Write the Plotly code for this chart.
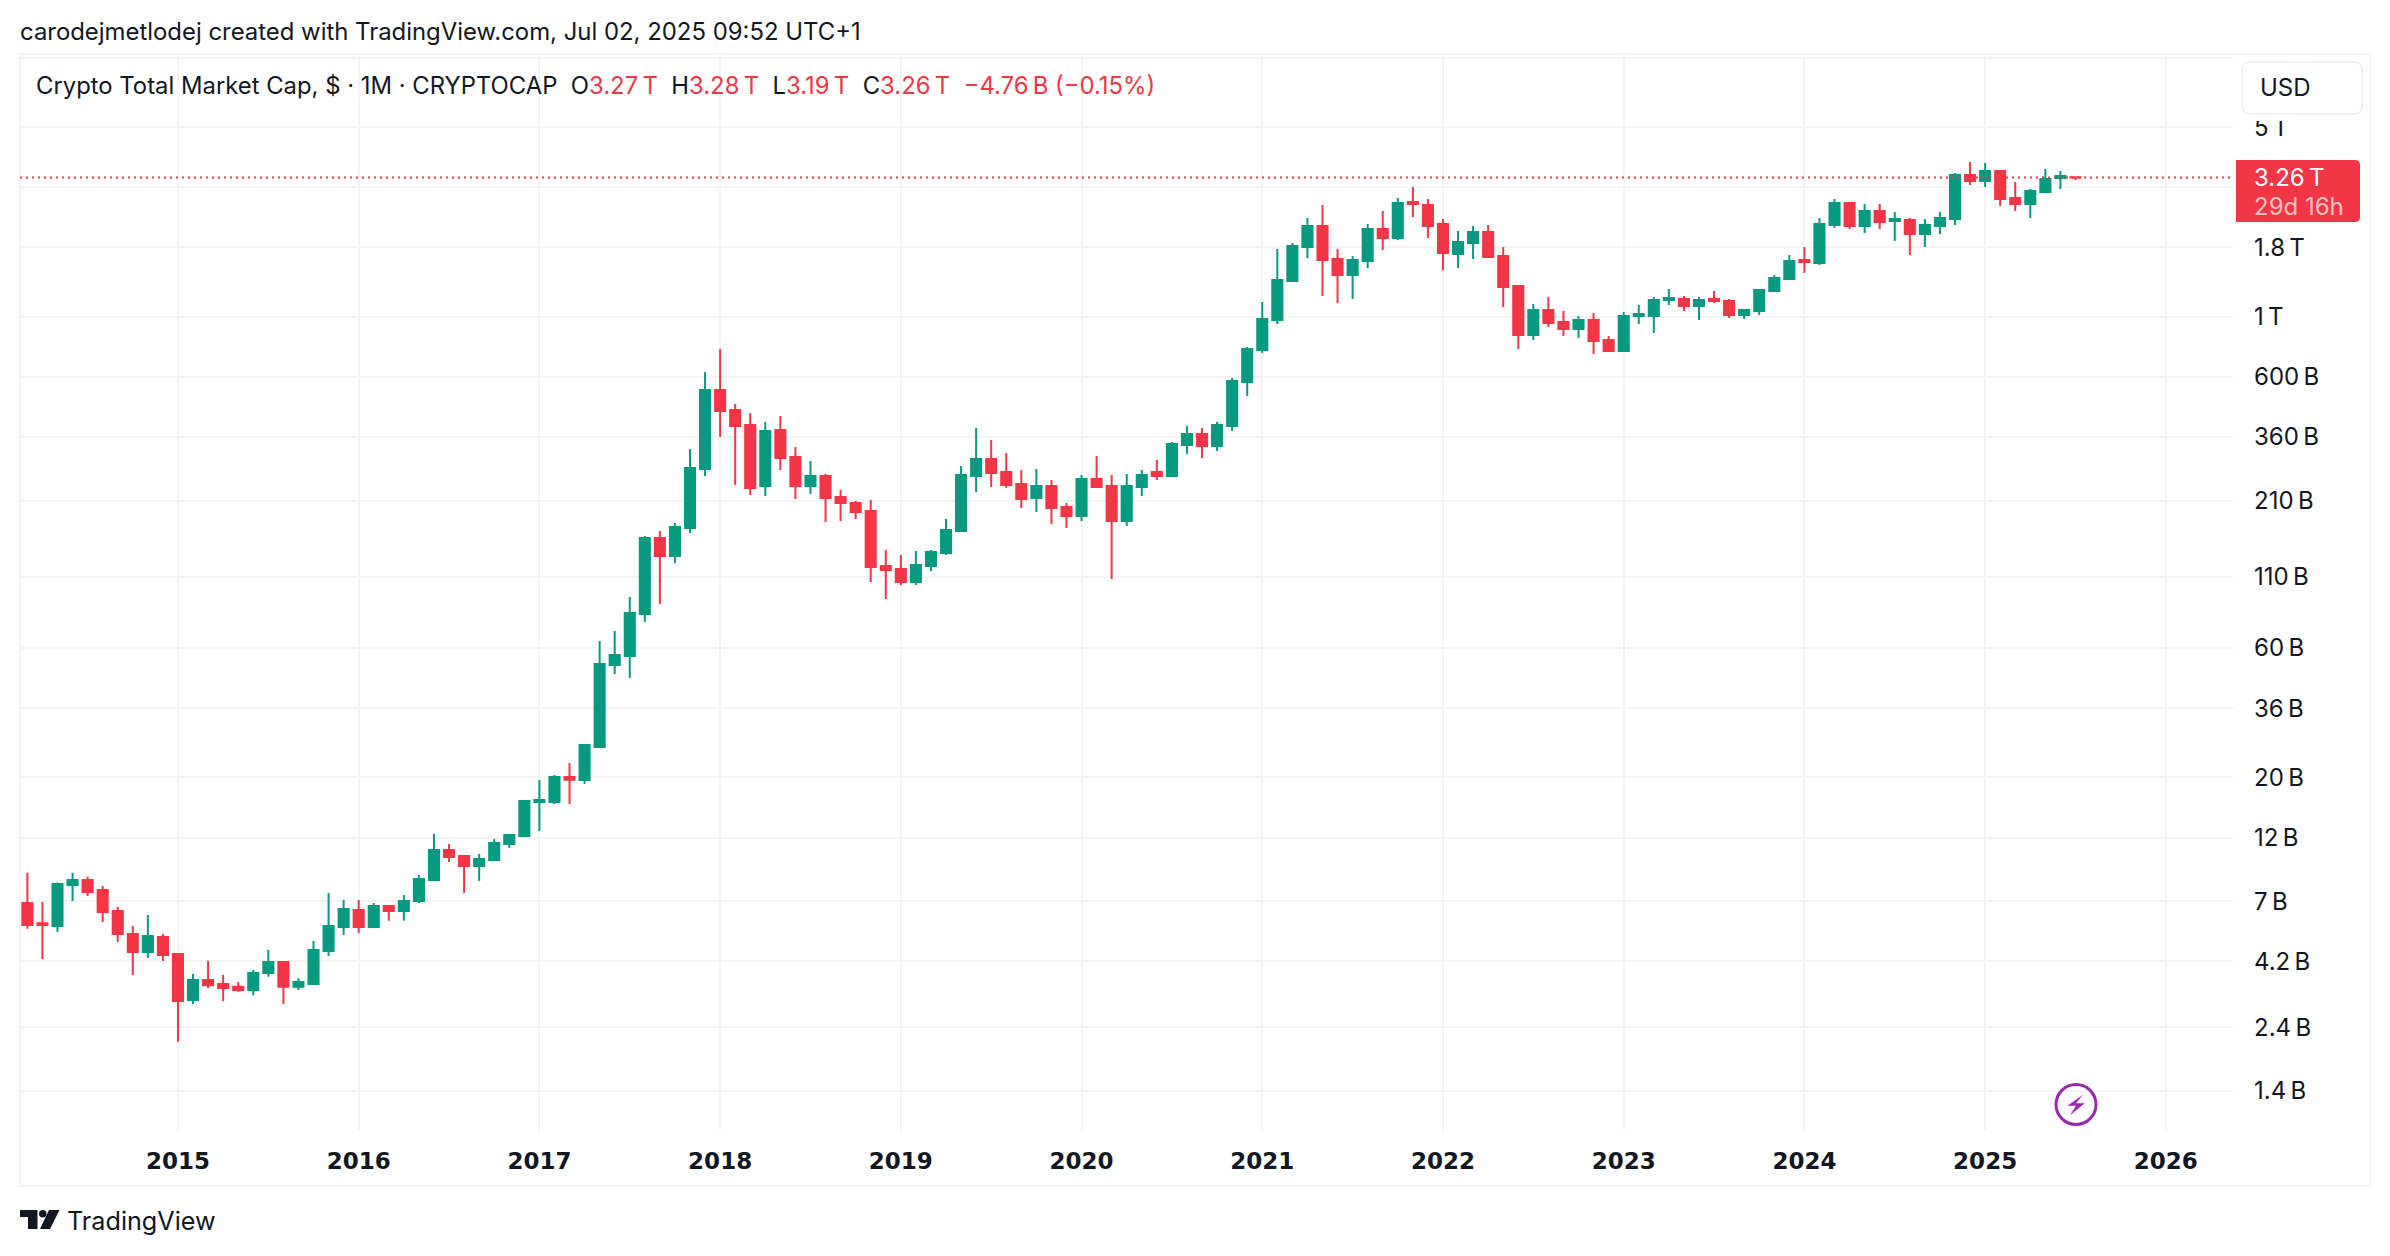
import numpy as np # for the bar index
import pandas as pd # for the month list

import plotly.graph_objects as go # for data visualization


W, H = 2390, 1256

# Monthly candles, Mar 2014 to Jul 2025, values in billions of USD
months = pd.period_range('2014-03', '2025-07', freq='M')

open_b = [6.89,5.80,5.67,8.02,8.38,7.69,6.44,5.30,4.54,5.16,
          4.47,3.02,3.58,3.46,3.38,3.29,3.80,4.17,3.38,3.46,
          4.58,5.62,6.49,5.62,6.72,6.44,7.01,8.38,10.80,10.27,
          9.43,9.92,11.37,12.17,16.24,16.24,20.07,19.57,25.9,52.0,
          56.1,80.1,152.8,131.1,166.3,274.4,537,453,398.7,237.5,
          382.1,303.9,237.5,258.6,216.3,205.6,192,120.4,117.4,105.1,
          120.4,134.5,162.1,258.6,298.8,267.5,241.6,214.5,237.5,198.7,
          184.1,252,237.5,176.5,235.5,267.5,258.6,336.5,369.4,333.6,
          395,574,754,972,1354,1807,2160,1632,1425,1605,
          2106,1951,2648,2582,2197,1703,1870,2053,1674,1298,
          856,1058,956,901,972,821,747,1006,1006,1152,
          1162,1095,1162,1143,1015,1050,1244,1377,1618,1578,
          2179,2626,2160,2454,2254,2273,2018,2160,2292,3330,
          3166,3446,2740,2604,2883,3247,3270]

high_b = [8.91,6.95,8.19,8.91,8.62,7.96,6.66,5.67,6.22,5.30,
          4.47,3.77,4.21,3.74,3.52,3.90,4.62,4.21,3.64,4.99,
          7.50,7.07,7.07,6.89,6.77,7.37,8.74,12.38,11.37,10.35,
          10.44,11.86,12.38,16.5,19.57,20.42,22.62,26.57,63.7,69.4,
          92.6,155.4,162.1,173.5,325,625,760,477,441.5,409,
          430.3,330.7,293.8,263,229.6,209.1,210.9,138,132.2,136.8,
          138,179.5,281.5,388.7,351,314.4,272,274.4,249.9,205.6,
          260.8,306.5,260.8,263,272,296.2,345,395,388.7,409,
          594,773,1133,1777,1870,2312,2582,1777,1674,2197,
          2453,2740,3008,2716,2292,2070,2160,2178,1807,1309,
          1114,1182,1050,1006,1032,849,1041,1104,1182,1265,
          1193,1182,1244,1162,1068,1265,1425,1689,1808,2312,
          2717,2648,2604,2604,2433,2312,2292,2433,3387,3720,
          3688,3475,3139,2958,3505,3446,3280]

low_b = [5.53,4.28,5.39,7.01,7.31,5.86,4.95,3.74,4.32,4.21,
         2.12,2.92,3.35,3.00,3.24,3.15,3.68,2.92,3.29,3.46,
         4.39,5.25,5.34,5.62,5.92,5.92,6.89,8.30,9.76,7.50,
         8.30,9.92,10.99,12.17,12.70,15.97,15.97,18.92,25.7,48.1,
         46.5,74.9,87.2,123.5,159.4,258.6,360,239.5,220,218,
         272,212.7,221.9,175,176.5,179.5,105.1,91,102.5,102.5,
         115.4,132.2,162.1,225.7,235.5,233.5,197,190.4,172,166.3,
         176.5,233.5,107.8,169.1,218,249.9,256.4,311.7,301.3,319.6,
         378.9,510,735,940,1343,1646,1193,1123,1162,1512,
         1762,1918,2332,1951,1487,1512,1632,1660,1086,760,
         821,916,849,835,729,741,747,940,871,1104,
         1050,972,1123,989,981,1015,1234,1377,1449,1551,
         2123,2106,2036,2106,1902,1689,1808,2018,2179,3060,
         3009,2560,2454,2312,2859,2958,3190]

close_b = [5.71,5.71,8.09,8.38,7.56,6.38,5.30,4.54,5.21,4.43,
           3.00,3.58,3.43,3.35,3.29,3.80,4.17,3.38,3.52,4.62,
           5.67,6.55,5.62,6.72,6.44,7.01,8.45,10.80,10.18,9.43,
           10.01,11.47,12.27,16.38,16.5,20.07,19.63,26.35,52.4,56.6,
           80.8,152.8,131.1,167.7,276.7,537,449,395,233.5,378.9,
           301.3,237.5,258.6,214.5,205.6,190.4,119.4,116.4,105.1,121.4,
           135.6,163.5,260.8,298.8,265.2,239.5,212.7,237.5,197,184.1,
           252,235.5,176.5,237.5,260.8,258.6,339.3,369.4,333.6,398.7,
           579,760,981,1366,1822,2160,1618,1425,1618,2106,
           1951,2626,2604,2160,1718,1886,2053,1660,1287,856,
           1058,948,901,972,814,747,1006,1023,1152,1172,
           1095,1152,1143,1015,1058,1254,1389,1605,1591,2197,
           2626,2160,2454,2235,2292,2018,2179,2312,3330,3166,
           3446,2717,2604,2908,3220,3303,3260]

# Axis labels, the 9T and 3T lines have their labels covered in the original
year_labels = [2015, 2016, 2017, 2018, 2019, 2020, 2021, 2022, 2023, 2024, 2025, 2026]
price_ticks = [9000, 5000, 3000, 1800, 1000, 600, 360, 210, 110, 60, 36, 20, 12, 7, 4.2, 2.4, 1.4]
price_labels = ['', '5\u2009T', '', '1.8\u2009T', '1\u2009T', '600\u2009B', '360\u2009B',
                '210\u2009B', '110\u2009B', '60\u2009B', '36\u2009B', '20\u2009B', '12\u2009B', '7\u2009B',
                '4.2\u2009B', '2.4\u2009B', '1.4\u2009B']
last_close = close_b[-1]

GREEN = '#089981'
RED = '#f23645'
INK = '#131722'
GRID = '#f3f4f4'
FONT = 'Inter'


def px(x):
    return x / W


def py(y):
    return 1 - y / H


def path_px(points, close=True):
    # SVG path in paper coordinates from page pixels
    s = 'M ' + ' L '.join(f'{px(a):.5f},{py(b):.5f}' for a, b in points)
    return s + (' Z' if close else '')


def label(x, y, text, size=24, color=INK, anchor='left'):
    fig.add_annotation(x=px(x), y=py(y), xref='paper', yref='paper', text=text, showarrow=False,
                       xanchor=anchor, yanchor='middle', align='left', borderpad=0,
                       font=dict(family=FONT, size=size, color=color))


# The bars sit on an evenly spaced index, like the original time scale
bar_x = np.arange(len(months))
tick_x = [(y - 2014) * 12 - 2 for y in year_labels]

fig = go.Figure()

fig.add_trace(go.Candlestick(x=bar_x, open=open_b, high=high_b, low=low_b, close=close_b,
                             whiskerwidth=0,
                             increasing=dict(line=dict(color=GREEN, width=2), fillcolor=GREEN),
                             decreasing=dict(line=dict(color=RED, width=2), fillcolor=RED),
                             hoverinfo='skip'))

# Dotted last price line
x_range = [-0.49, 146.46]
fig.add_trace(go.Scatter(x=x_range, y=[last_close, last_close], mode='lines', hoverinfo='skip',
                         line=dict(color=RED, width=2, dash='2px,4px')))

fig.update_layout(width=W, height=H, paper_bgcolor='white', plot_bgcolor='white',
                  margin=dict(l=0, r=0, t=0, b=0), showlegend=False, boxgap=0.33, boxgroupgap=0,
                  hovermode=False)

fig.update_xaxes(domain=[px(20), px(2233)], range=x_range, tickmode='array', tickvals=tick_x,
                 ticktext=[str(y) for y in year_labels], showgrid=True, gridcolor=GRID, gridwidth=2,
                 zeroline=False, showline=False, ticks='', rangeslider_visible=False, automargin=False,
                 ticklabelstandoff=15,
                 tickfont=dict(family='DejaVu Sans', size=23, color=INK, weight=600))

fig.update_yaxes(domain=[py(1130), py(54)], type='log', range=[0.0011, 3.9687], side='right',
                 tickmode='array', tickvals=price_ticks, ticktext=price_labels, automargin=False,
                 showgrid=True, gridcolor=GRID, gridwidth=2, zeroline=False, showline=False, ticks='',
                 ticklabelstandoff=20, tickfont=dict(family=FONT, size=24, color=INK))

# Outer frame
fig.add_shape(type='rect', xref='paper', yref='paper', x0=px(20), x1=px(2370), y0=py(1186), y1=py(54),
              line=dict(color=GRID, width=2), layer='below')

# White strip under the USD button, it cuts the top of the 5T label
fig.add_shape(type='rect', xref='paper', yref='paper', x0=px(2240), x1=px(2365), y0=py(121), y1=py(110),
              fillcolor='white', line_width=0)

# USD button
fig.add_shape(type='path', xref='paper', yref='paper', fillcolor='white', line=dict(color='#f0f3f4', width=2),
              path=f'M {px(2250)},{py(62)} L {px(2354)},{py(62)} Q {px(2362)},{py(62)} {px(2362)},{py(70)} '
                   f'L {px(2362)},{py(106)} Q {px(2362)},{py(114)} {px(2354)},{py(114)} '
                   f'L {px(2250)},{py(114)} Q {px(2242)},{py(114)} {px(2242)},{py(106)} '
                   f'L {px(2242)},{py(70)} Q {px(2242)},{py(62)} {px(2250)},{py(62)} Z')

# Last price tag
fig.add_shape(type='path', xref='paper', yref='paper', fillcolor=RED, line_width=0,
              path=f'M {px(2236)},{py(160)} L {px(2355)},{py(160)} Q {px(2360)},{py(160)} {px(2360)},{py(165)} '
                   f'L {px(2360)},{py(217)} Q {px(2360)},{py(222)} {px(2355)},{py(222)} L {px(2236)},{py(222)} Z')

# Lightning icon
fig.add_shape(type='circle', xref='paper', yref='paper', x0=px(2056), x1=px(2096), y0=py(1124.5), y1=py(1084.5),
              line=dict(color='#9c27b0', width=3), fillcolor='rgba(255,255,255,0)')
fig.add_shape(type='path', xref='paper', yref='paper', fillcolor='#9c27b0', line_width=0,
              path=path_px([(2082.7, 1095), (2067.3, 1105.7), (2076, 1105.7), (2070, 1115.3),
                            (2084.7, 1103.3), (2076, 1103.3)]))

# TradingView logo mark
fig.add_shape(type='path', xref='paper', yref='paper', fillcolor='#131722', line_width=0,
              path=path_px([(20, 1210), (37.5, 1210), (37.5, 1229), (28, 1229), (28, 1217), (20, 1217)]))
fig.add_shape(type='circle', xref='paper', yref='paper', x0=px(39), x1=px(46.5), y0=py(1217.5), y1=py(1210),
              fillcolor='#131722', line_width=0)
fig.add_shape(type='path', xref='paper', yref='paper', fillcolor='#131722', line_width=0,
              path=path_px([(49, 1210), (59.5, 1210), (50, 1229), (40, 1229)]))

# Texts
label(19, 32, 'carodejmetlodej created with TradingView.com, Jul 02, 2025 09:52 UTC+1', size=23.9)
r = f'<span style="color:{RED}">'
label(35, 85, 'Crypto Total Market Cap, $ · 1M · CRYPTOCAP  '
              f'O{r}3.27\u2009T</span>  H{r}3.28\u2009T</span>  L{r}3.19\u2009T</span>  C{r}3.26\u2009T</span>  '
              f'{r}\u22124.76\u2009B (\u22120.15%)</span>', size=23.85)
label(2259, 88, 'USD', size=24)
label(2253, 177, '3.26\u2009T', size=24, color='white')
label(2253, 206, '29d 16h', size=24, color='rgba(255,255,255,0.7)')
label(66, 1221, 'TradingView', size=25.2)

fig.write_html('out.html', config=dict(displayModeBar=False),
               post_script="document.body.style.margin='0';document.body.style.overflow='hidden';")
